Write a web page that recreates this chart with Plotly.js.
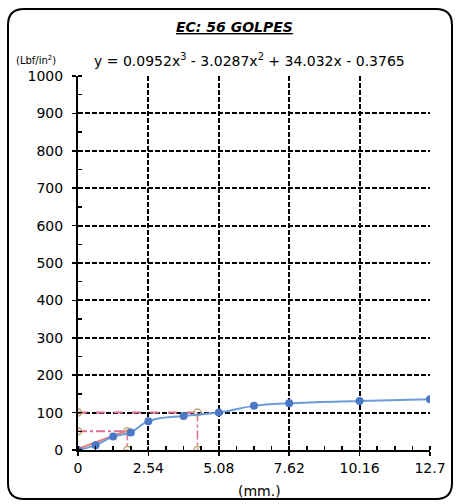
<!DOCTYPE html>
<html>
<head>
<meta charset="utf-8">
<script src="https://cdn.plot.ly/plotly-3.0.1.min.js"></script>
<style>html,body{margin:0;padding:0;background:#fff;}#chart{width:456px;height:504px;}</style>
</head>
<body>
<div id="chart"></div>
<script>
// Data
var penetration = [0, 0.635, 1.27, 1.905, 2.54, 3.81, 5.08, 6.35, 7.62, 10.16, 12.7];
var load = [0, 13, 36, 47, 77, 91, 100, 118, 125, 131, 136];
var xTickVals = [0, 2.54, 5.08, 7.62, 10.16, 12.7];
var xTickText = ['0', '2.54', '5.08', '7.62', '10.16', '12.7'];
var correctionX = [0, 1.9];
var correctionY = [3, 55];
var guideLoads = [50, 100];
var guidePen = [1.78, 4.31];
var titleText = '<b><i><u>EC: 56 GOLPES</u></i></b>';
var equationText = 'y = 0.0952x<sup>3</sup> - 3.0287x<sup>2</sup> + 34.032x - 0.3765';
var yUnit = '(Lbf/in<sup>2</sup>)';
var xUnit = '(mm.)';

var W = 456, H = 504, mL = 78, mR = 26, mT = 76, mB = 54;
var pw = W - mL - mR, ph = H - mT - mB;
function px(x){ return (x - mL) / pw; }
function py(y){ return (H - mB - y) / ph; }

var font = 'DejaVu Sans, Arial, sans-serif';
var pink = '#dd6f8c';
var olive = '#b9ab72';

var traces = [];
// guide lines
for (var i = 0; i < guideLoads.length; i++) {
  traces.push({x: [0, guidePen[i]], y: [guideLoads[i], guideLoads[i]], mode: 'lines',
    line: {color: pink, width: 2, dash: i === 0 ? 'dashdot' : 'dash'}, hoverinfo: 'skip', showlegend: false});
  traces.push({x: [guidePen[i], guidePen[i]], y: [guideLoads[i], 0], mode: 'lines',
    line: {color: pink, width: 1.5, dash: 'dashdot'}, hoverinfo: 'skip', showlegend: false});
  traces.push({x: [0, guidePen[i], guidePen[i]], y: [guideLoads[i], guideLoads[i], 0], mode: 'markers',
    marker: {symbol: 'circle-open', size: 7, color: olive, line: {width: 1.5, color: olive}}, hoverinfo: 'skip', showlegend: false});
}
// correction line
traces.push({x: correctionX, y: correctionY, mode: 'lines', line: {color: '#e87a78', width: 2}, showlegend: false});
// data curve
traces.push({x: penetration, y: load, mode: 'lines+markers', line: {color: '#6d9bd8', width: 2, shape: 'spline', smoothing: 1.3},
  marker: {color: '#4a77c6', size: 8}, showlegend: false});

var rr = 16, bx0 = 8, by0 = 9, bx1 = 452, by1 = 499;
var path = 'M ' + px(bx0 + rr) + ',' + py(by0) +
  ' L ' + px(bx1 - rr) + ',' + py(by0) +
  ' Q ' + px(bx1) + ',' + py(by0) + ' ' + px(bx1) + ',' + py(by0 + rr) +
  ' L ' + px(bx1) + ',' + py(by1 - rr) +
  ' Q ' + px(bx1) + ',' + py(by1) + ' ' + px(bx1 - rr) + ',' + py(by1) +
  ' L ' + px(bx0 + rr) + ',' + py(by1) +
  ' Q ' + px(bx0) + ',' + py(by1) + ' ' + px(bx0) + ',' + py(by1 - rr) +
  ' L ' + px(bx0) + ',' + py(by0 + rr) +
  ' Q ' + px(bx0) + ',' + py(by0) + ' ' + px(bx0 + rr) + ',' + py(by0) + ' Z';

var layout = {
  width: W, height: H,
  margin: {l: mL, r: mR, t: mT, b: mB},
  paper_bgcolor: '#fff', plot_bgcolor: '#fff',
  font: {family: font, color: '#000', size: 14},
  xaxis: {range: [0, 12.7], tickvals: xTickVals, ticktext: xTickText, showgrid: true,
    gridcolor: '#000', gridwidth: 2, griddash: '5px,2px', zeroline: false,
    showline: true, linecolor: '#000', linewidth: 2, ticks: 'outside', ticklen: 4, tickwidth: 1.5, tickcolor: '#000',
    minor: {dtick: 0.635, tick0: 0, ticks: 'inside', ticklen: 4, tickwidth: 1.5, tickcolor: '#000', showgrid: false},
    tickfont: {family: font, size: 14}},
  yaxis: {range: [0, 1000], dtick: 100, showgrid: true,
    gridcolor: '#000', gridwidth: 2, griddash: '5px,2px', zeroline: false,
    showline: true, linecolor: '#000', linewidth: 2, ticks: 'outside', ticklen: 4, tickwidth: 1.5, tickcolor: '#000',
    ticklabelstandoff: 6,
    minor: {dtick: 50, tick0: 0, ticks: 'inside', ticklen: 4, tickwidth: 1.5, tickcolor: '#000', showgrid: false},
    tickfont: {family: font, size: 14}},
  shapes: [{type: 'path', xref: 'paper', yref: 'paper', path: path, line: {color: '#000', width: 2}, layer: 'below'}],
  annotations: [
    {text: titleText, xref: 'paper', yref: 'paper', x: px(234), y: py(27), showarrow: false, xanchor: 'center', yanchor: 'middle', font: {family: font, size: 14}},
    {text: equationText, xref: 'paper', yref: 'paper', x: px(249), y: py(60), showarrow: false, xanchor: 'center', yanchor: 'middle', font: {family: font, size: 14}},
    {text: yUnit, xref: 'paper', yref: 'paper', x: px(36), y: py(60), showarrow: false, xanchor: 'center', yanchor: 'middle', font: {family: font, size: 10}},
    {text: xUnit, xref: 'paper', yref: 'paper', x: px(259), y: py(491), showarrow: false, xanchor: 'center', yanchor: 'middle', font: {family: font, size: 14}}
  ]
};

Plotly.newPlot('chart', traces, layout, {displayModeBar: false, staticPlot: true});
</script>
</body>
</html>
